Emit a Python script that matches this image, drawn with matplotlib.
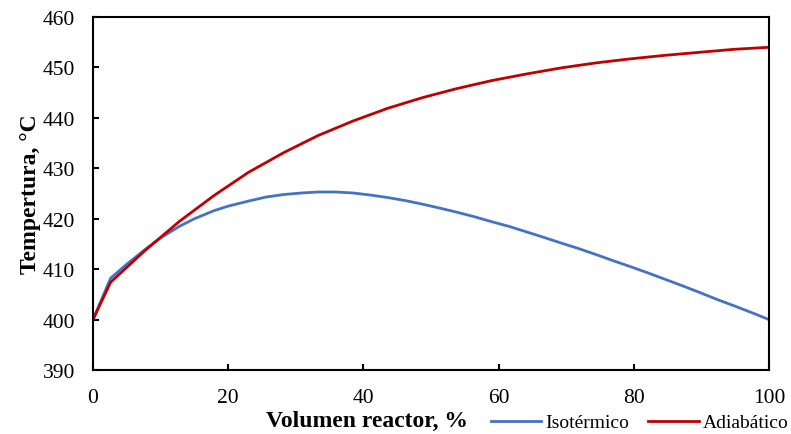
import matplotlib
matplotlib.use("Agg")
from matplotlib import pyplot as plt

# reactor temperature profiles
vol_adiab = [0, 2.6, 7.7, 12.8, 17.9, 23.0, 28.2, 33.3, 38.5, 43.6, 48.7, 53.8,
             59.0, 64.1, 69.2, 74.4, 79.5, 84.6, 89.7, 94.9, 100]
temp_adiab = [400, 407.4, 413.7, 419.5, 424.6, 429.2, 433.1, 436.5, 439.4, 441.9,
              444.0, 445.8, 447.4, 448.7, 449.9, 450.9, 451.7, 452.4, 453.0, 453.6, 454.0]

vol_iso = [0, 2.6, 5.0, 7.7, 10.0, 12.8, 15.0, 17.9, 20.0, 23.0, 25.6, 28.2, 30.8,
           33.3, 35.9, 38.5, 41.0, 43.6, 46.2, 48.7, 51.3, 53.8, 56.4, 59.0, 61.5,
           64.1, 66.7, 69.2, 71.8, 74.4, 76.9, 79.5, 82.0, 84.6, 87.2, 89.7, 92.3,
           94.9, 97.4, 100]
temp_iso = [400, 408.2, 411.0, 413.9, 416.2, 418.5, 420.0, 421.6, 422.5, 423.5,
            424.3, 424.8, 425.1, 425.3, 425.3, 425.1, 424.7, 424.2, 423.6, 422.9,
            422.1, 421.3, 420.4, 419.4, 418.5, 417.4, 416.3, 415.2, 414.1, 412.9,
            411.7, 410.5, 409.3, 408.0, 406.7, 405.4, 404.0, 402.7, 401.4, 400.0]

x_ticks = [0, 20, 40, 60, 80, 100]
y_ticks = [390, 400, 410, 420, 430, 440, 450, 460]

plt.rcParams['font.family'] = ['Liberation Serif', 'DejaVu Serif']

fig = plt.figure(figsize=(7.91, 4.35), dpi=100)
ax = fig.add_axes([0.1176, 0.1471, 0.8546, 0.8115])

ax.plot(vol_iso, temp_iso, color="#4472C4", lw=2.0, label="Isotérmico")
ax.plot(vol_adiab, temp_adiab, color="#C00000", lw=2.0, label="Adiabático")

ax.set_xlim(0, 100)
ax.set_ylim(390, 460)
ax.set_xticks(x_ticks)
ax.set_yticks(y_ticks)
ax.tick_params(direction="in", length=4, width=1.5, labelsize=15.5, colors="#000000")
ax.tick_params(axis="x", pad=13)
ax.tick_params(axis="y", pad=13)
for s in ax.spines.values():
    s.set_linewidth(1.5)

ax.set_xlabel("Volumen reactor, %", fontsize=17, fontweight="bold")
ax.xaxis.set_label_coords(0.405, -0.112)
ax.set_ylabel("Tempertura, °C", fontsize=17, fontweight="bold", labelpad=1)

fig.legend(loc="center right", bbox_to_anchor=(1.019, 0.026), ncol=2, frameon=False,
           fontsize=14, handlelength=2.6, handletextpad=0.2, columnspacing=1.0)

fig.savefig("out.png", dpi=100)
